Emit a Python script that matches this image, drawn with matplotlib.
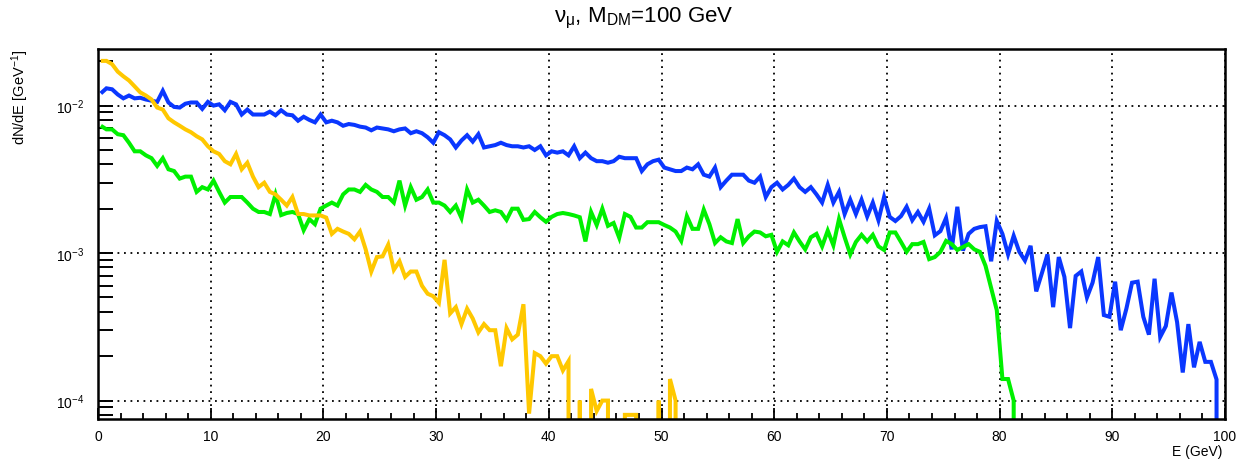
import numpy as np
import matplotlib
matplotlib.use("Agg")
import matplotlib.pyplot as plt
from matplotlib.ticker import MultipleLocator, LogLocator, NullFormatter, LogFormatterSciNotation

plt.rcParams['font.family'] = ['Liberation Sans', 'DejaVu Sans']
plt.rcParams['mathtext.fontset'] = 'custom'
plt.rcParams['mathtext.rm'] = 'Liberation Sans'
plt.rcParams['mathtext.it'] = 'Liberation Sans:italic'
plt.rcParams['mathtext.bf'] = 'Liberation Sans:bold'

# ---- data: dN/dE per 0.5 GeV bin (bin centres 0.25 ... 99.75 GeV) ----
E_min, E_max, n_bins = 0.0, 100.0, 200

blue = [
    0.0121, 0.0131, 0.0129, 0.0119, 0.0112, 0.0117, 0.0112, 0.0113, 0.0110, 0.0108,
    0.0106, 0.0126, 0.0105, 0.0098, 0.0097, 0.0103, 0.0105, 0.0105, 0.0095, 0.0106,
    0.0100, 0.0102, 0.0093, 0.0106, 0.0102, 0.0087, 0.0094, 0.0087, 0.0087, 0.0087,
    0.0091, 0.0086, 0.0093, 0.0087, 0.0086, 0.0079, 0.0084, 0.0080, 0.0077, 0.0087,
    0.0077, 0.0079, 0.0077, 0.0073, 0.0075, 0.0074, 0.0072, 0.0071, 0.0068, 0.0071,
    0.0070, 0.0069, 0.0067, 0.0069, 0.0070, 0.0065, 0.0067, 0.0065, 0.0061, 0.0056,
    0.0066, 0.0063, 0.0059, 0.0052, 0.0058, 0.0063, 0.0057, 0.0064, 0.0052, 0.0053,
    0.0054, 0.0056, 0.0054, 0.0053, 0.0053, 0.0052, 0.0053, 0.0050, 0.0053, 0.0046,
    0.0049, 0.0048, 0.0049, 0.0046, 0.0053, 0.0044, 0.0048, 0.0044, 0.0042, 0.0042,
    0.0041, 0.0042, 0.0045, 0.0044, 0.0044, 0.0044, 0.0036, 0.0040, 0.0042, 0.0043,
    0.0038, 0.0037, 0.0036, 0.0036, 0.0038, 0.0037, 0.0040, 0.0034, 0.0033, 0.0038,
    0.0028, 0.0031, 0.0034, 0.0034, 0.0034, 0.0031, 0.0030, 0.0033, 0.0024, 0.0028,
    0.0030, 0.0027, 0.0029, 0.0032, 0.0028, 0.0026, 0.0028, 0.0025, 0.0022, 0.0029,
    0.0022, 0.0026, 0.00184, 0.0023, 0.00184, 0.0023, 0.00177, 0.0022, 0.00167, 0.0024,
    0.00176, 0.00165, 0.00178, 0.00206, 0.00167, 0.0019, 0.00163, 0.0020, 0.00132, 0.00141,
    0.00173, 0.00106, 0.00206, 0.00104, 0.00135, 0.00146, 0.00150, 0.00152, 0.00088, 0.00165,
    0.00135, 0.00098, 0.00131, 0.00102, 0.00089, 0.00112, 0.00055, 0.00073, 0.00098, 0.00043,
    0.00094, 0.00069, 0.00031, 0.00070, 0.00075, 0.00050, 0.00063, 0.00094, 0.00038, 0.00037,
    0.00064, 0.00030, 0.00042, 0.00063, 0.00064, 0.00037, 0.00028, 0.00067, 0.00027, 0.00032,
    0.00054, 0.00034, 0.000155, 0.00033, 0.000168, 0.00025, 0.000183, 0.000183, 0.000139, 0.0,
]

green = [
    0.0073, 0.0069, 0.0069, 0.0064, 0.0063, 0.0056, 0.0049, 0.0049, 0.0046, 0.0044,
    0.0039, 0.0044, 0.0037, 0.0036, 0.0032, 0.0033, 0.0033, 0.0026, 0.0028, 0.0027,
    0.0031, 0.0026, 0.0022, 0.0024, 0.0024, 0.0024, 0.0022, 0.0020, 0.0019, 0.0019,
    0.00184, 0.0025, 0.00181, 0.00187, 0.0019, 0.00184, 0.00143, 0.0017, 0.00157, 0.0020,
    0.0021, 0.0022, 0.0021, 0.0025, 0.0027, 0.0027, 0.0026, 0.0029, 0.0027, 0.0026,
    0.0024, 0.0024, 0.0022, 0.0031, 0.0021, 0.0028, 0.0023, 0.0024, 0.0027, 0.0022,
    0.0022, 0.0021, 0.0019, 0.0021, 0.00173, 0.0027, 0.0022, 0.0023, 0.0021, 0.0019,
    0.00195, 0.0019, 0.00168, 0.0020, 0.0020, 0.00168, 0.0017, 0.0019, 0.00175, 0.00163,
    0.00176, 0.00184, 0.00187, 0.00184, 0.0018, 0.00175, 0.0012, 0.0019, 0.00155, 0.0020,
    0.00153, 0.0016, 0.00127, 0.00184, 0.00176, 0.00149, 0.00149, 0.00162, 0.00162, 0.00162,
    0.00155, 0.00149, 0.0014, 0.00121, 0.00178, 0.00146, 0.00146, 0.00197, 0.00157, 0.00117,
    0.00128, 0.0012, 0.00117, 0.0017, 0.00117, 0.0013, 0.0014, 0.00138, 0.0013, 0.00133,
    0.00102, 0.0012, 0.00113, 0.00138, 0.0012, 0.00106, 0.00128, 0.00135, 0.00111, 0.00142,
    0.00113, 0.0017, 0.00128, 0.00098, 0.00119, 0.00133, 0.0012, 0.00133, 0.00111, 0.00105,
    0.00138, 0.00138, 0.00119, 0.00102, 0.00115, 0.00115, 0.00119, 0.00091, 0.00094, 0.00102,
    0.00121, 0.00115, 0.00105, 0.0011, 0.00115, 0.00106, 0.00102, 0.00082, 0.00058, 0.00041,
    0.00014, 0.00014, 0.0001, 0.0,
]

yellow = [
    0.0201, 0.0201, 0.0191, 0.0170, 0.0158, 0.0148, 0.0135, 0.0123, 0.0117, 0.0110,
    0.0097, 0.0094, 0.0082, 0.0077, 0.0073, 0.0069, 0.0066, 0.0062, 0.0059, 0.0053,
    0.0049, 0.0047, 0.0042, 0.0040, 0.0047, 0.0037, 0.0041, 0.0033, 0.0028, 0.0030,
    0.0026, 0.0025, 0.0023, 0.0021, 0.0024, 0.00184, 0.00184, 0.0018, 0.0018, 0.0018,
    0.00174, 0.00135, 0.00146, 0.0014, 0.00135, 0.00124, 0.0014, 0.00106, 0.00075, 0.00094,
    0.00095, 0.00114, 0.00077, 0.00088, 0.00069, 0.00075, 0.00075, 0.0006, 0.00053, 0.00051,
    0.00046, 0.0009, 0.00039, 0.00043, 0.00033, 0.00042, 0.00036, 0.00029, 0.00033, 0.0003,
    0.0003, 0.000171, 0.00031, 0.00026, 0.00028, 0.00045, 0.0000816, 0.00021, 0.0002, 0.000178,
    0.0002, 0.0002, 0.00016, 0.000185, 0.0, 0.0001, 0.0, 0.00012, 0.000085, 0.0001,
    0.0001, 0.0, 0.0, 0.00008, 0.00008, 0.00008, 0.0, 0.0, 0.0, 0.0001,
    0.0, 0.00014, 0.0001, 0.0,
]

title = r"ν$_{\mathrm{μ}}$, M$_{\mathrm{DM}}$=100 GeV"
xlabel = "E (GeV)"
ylabel = r"dN/dE [GeV$^{-1}$]"

# ---- figure ----
W, H = 1238, 460
fig = plt.figure(figsize=(W / 100, H / 100), dpi=100)
ax = fig.add_axes([98 / W, (H - 420) / H, (1225 - 98) / W, (420 - 50) / H])

width = (E_max - E_min) / n_bins
centers = E_min + width * (np.arange(n_bins) + 0.5)

series = [(blue, "#0a37ff"), (green, "#00f000"), (yellow, "#ffc800")]
ax.set_yscale("log", nonpositive="clip")
for vals, col in series:
    v = np.asarray(vals, dtype=float)
    ax.plot(centers[:len(v)], v, color=col, lw=2.9, solid_joinstyle="miter",
            solid_capstyle="butt")

ax.set_xlim(E_min, E_max)
ax.set_ylim(7.5e-5, 0.0242)

ax.xaxis.set_major_locator(MultipleLocator(10))
ax.xaxis.set_minor_locator(MultipleLocator(2))
ax.yaxis.set_major_locator(LogLocator(base=10))
ax.yaxis.set_minor_locator(LogLocator(base=10, subs=np.arange(2, 10)))
ax.yaxis.set_major_formatter(LogFormatterSciNotation())
ax.yaxis.set_minor_formatter(NullFormatter())

ax.tick_params(axis="x", which="major", direction="in", length=8, width=1.3,
               labelsize=10, pad=7, top=False)
ax.tick_params(axis="x", which="minor", direction="in", length=4, width=1.3, top=False)
ax.tick_params(axis="y", which="major", direction="in", length=11, width=1.4,
               labelsize=10, pad=10, right=False)
ax.tick_params(axis="y", which="minor", direction="in", length=11, width=1.4, right=False)

for s in ax.spines.values():
    s.set_linewidth(1.8)
    s.set_color("black")

ax.grid(which="major", color="black", linestyle=(0, (1, 2.6)), linewidth=1.3)
ax.set_axisbelow(True)

fig.text(644 / W, 1 - 18 / H, title, ha="center", va="center", fontsize=16)
fig.text(1222 / W, 1 - 452 / H, xlabel, ha="right", va="center", fontsize=10)
fig.text(20 / W, 1 - 50 / H, ylabel, ha="center", va="top", rotation=90, fontsize=10.5)

fig.savefig("out.png", dpi=100)
